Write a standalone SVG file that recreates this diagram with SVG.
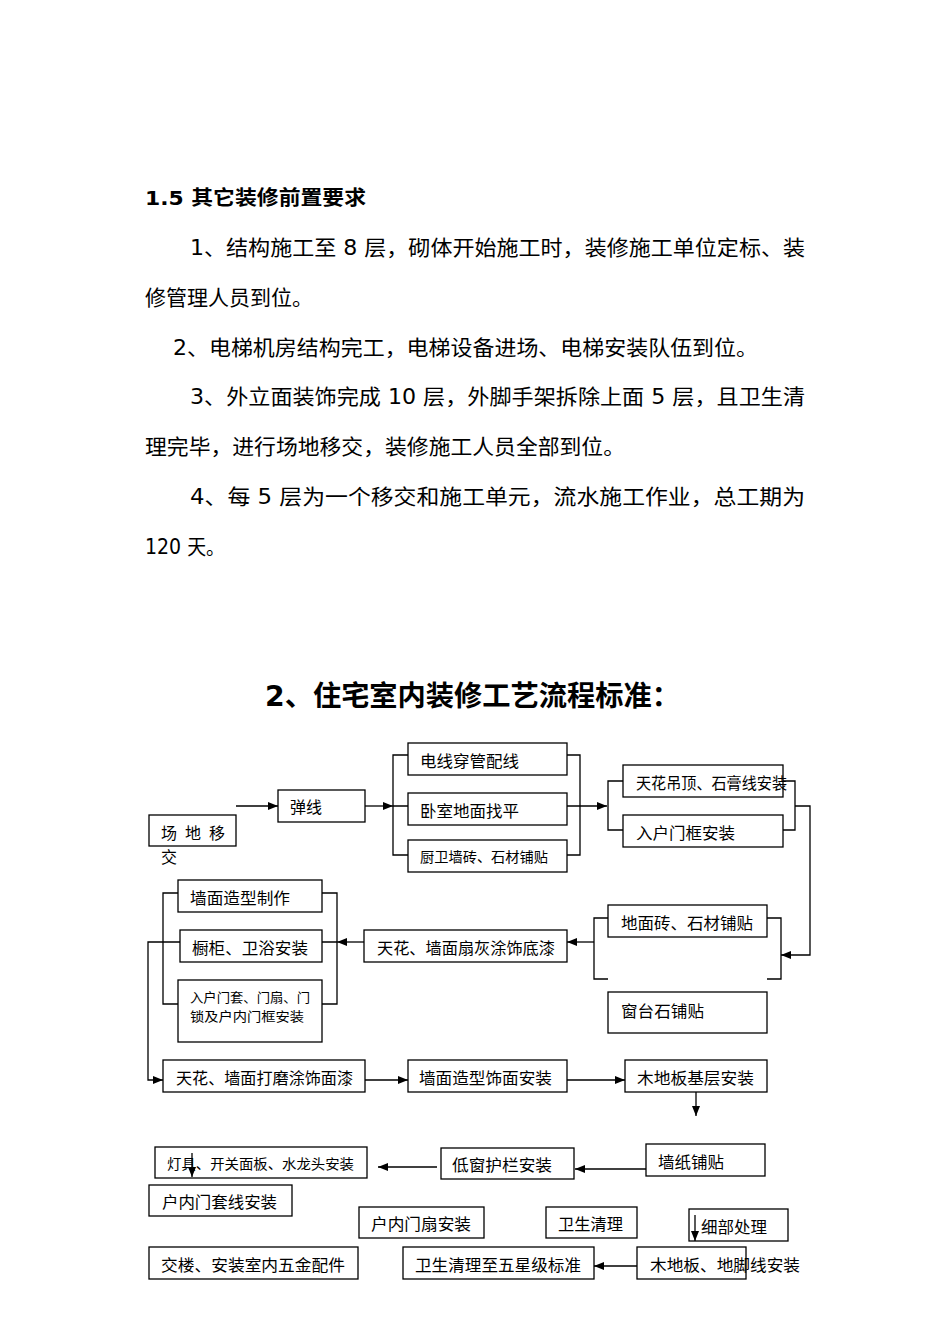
<svg xmlns="http://www.w3.org/2000/svg" width="950" height="1344" viewBox="0 0 950 1344">
<style>
.body{font-family:"DejaVu Sans","Noto Sans CJK SC",sans-serif;font-size:21px;fill:#000;dominant-baseline:central}
.bold{font-family:"DejaVu Sans","Noto Sans CJK SC",sans-serif;font-weight:bold;fill:#000;dominant-baseline:central}
.box{fill:#fff;stroke:#000;stroke-width:1.3}
.lbl{font-family:"Noto Sans CJK SC","DejaVu Sans",sans-serif;font-size:16px;fill:#000;dominant-baseline:central}
.sm{font-size:14px}
.xs{font-size:13px}
.ln{fill:none;stroke:#000;stroke-width:1.3}
</style>
<defs>
<marker id="ah" markerUnits="userSpaceOnUse" markerWidth="10" markerHeight="8" refX="10" refY="4" orient="auto">
<path d="M0,0 L10,4 L0,8 z" fill="#000"/>
</marker>
</defs>
<rect width="950" height="1344" fill="#fff"/>

<g id="text-block">
<text class="bold" x="145" y="198" font-size="20" textLength="221" lengthAdjust="spacingAndGlyphs">1.5 其它装修前置要求</text>
<text class="body" x="190" y="248" textLength="615" lengthAdjust="spacingAndGlyphs">1、结构施工至 8 层，砌体开始施工时，装修施工单位定标、装</text>
<text class="body" x="145" y="298" textLength="168" lengthAdjust="spacingAndGlyphs">修管理人员到位。</text>
<text class="body" x="173" y="348" textLength="585" lengthAdjust="spacingAndGlyphs">2、电梯机房结构完工，电梯设备进场、电梯安装队伍到位。</text>
<text class="body" x="190" y="397" textLength="615" lengthAdjust="spacingAndGlyphs">3、外立面装饰完成 10 层，外脚手架拆除上面 5 层，且卫生清</text>
<text class="body" x="145" y="447" textLength="480" lengthAdjust="spacingAndGlyphs">理完毕，进行场地移交，装修施工人员全部到位。</text>
<text class="body" x="190" y="497" textLength="615" lengthAdjust="spacingAndGlyphs">4、每 5 层为一个移交和施工单元，流水施工作业，总工期为</text>
<text class="body" x="145" y="547" textLength="80" lengthAdjust="spacingAndGlyphs">120 天。</text>
<text class="bold" x="265" y="696" font-size="28" textLength="415" lengthAdjust="spacingAndGlyphs">2、住宅室内装修工艺流程标准：</text>
</g>

<g id="connectors">
<path class="ln" d="M236,806 H278" marker-end="url(#ah)"/>
<path class="ln" d="M365,806 H393" marker-end="url(#ah)"/>
<path class="ln" d="M408,755 H393 V855 H408 M393,806 H408"/>
<path class="ln" d="M567,755 H580 V855 H567"/>
<path class="ln" d="M567,806 H607" marker-end="url(#ah)"/>
<path class="ln" d="M623,781 H608 V830 H623"/>
<path class="ln" d="M783,781 H795 V830 H783"/>
<path class="ln" d="M795,806 H810 V955 H781" marker-end="url(#ah)"/>
<path class="ln" d="M608,918 H594 V979 H608"/>
<path class="ln" d="M767,918 H781 V979 H767"/>
<path class="ln" d="M594,942 H567" marker-end="url(#ah)"/>
<path class="ln" d="M364,942 H337" marker-end="url(#ah)"/>
<path class="ln" d="M322,893 H337 V1004 H322 M322,942 H337"/>
<path class="ln" d="M178,893 H163 V1004 H178"/>
<path class="ln" d="M180,942 H148 V1080 H163" marker-end="url(#ah)"/>
<path class="ln" d="M365,1080 H408" marker-end="url(#ah)"/>
<path class="ln" d="M567,1080 H625" marker-end="url(#ah)"/>
<path class="ln" d="M696,1092 V1116" marker-end="url(#ah)"/>
<path class="ln" d="M646,1169 H575" marker-end="url(#ah)"/>
<path class="ln" d="M437,1167 H378" marker-end="url(#ah)"/>
<path class="ln" d="M637,1266 H594" marker-end="url(#ah)"/>
</g>

<g id="n-changdi"><rect class="box" x="149" y="815" width="87" height="31"/><text class="lbl" x="161" y="832" textLength="64" lengthAdjust="spacing">场 地 移</text><text class="lbl" x="161" y="856">交</text></g>
<g id="n-tanxian"><rect class="box" x="278" y="790" width="87" height="32"/><text class="lbl" x="290" y="806">弹线</text></g>
<g id="n-dianxian"><rect class="box" x="408" y="743" width="159" height="32"/><text class="lbl" x="420" y="760" textLength="99" lengthAdjust="spacingAndGlyphs">电线穿管配线</text></g>
<g id="n-woshi"><rect class="box" x="408" y="793" width="159" height="32"/><text class="lbl" x="420" y="810" textLength="99" lengthAdjust="spacingAndGlyphs">卧室地面找平</text></g>
<g id="n-chuwei"><rect class="box" x="408" y="840" width="159" height="32"/><text class="lbl sm" x="420" y="856" textLength="128" lengthAdjust="spacingAndGlyphs">厨卫墙砖、石材铺贴</text></g>
<g id="n-tianhua"><rect class="box" x="623" y="765" width="160" height="32"/><text class="lbl" x="636" y="782" textLength="151" lengthAdjust="spacingAndGlyphs">天花吊顶、石膏线安装</text></g>
<g id="n-ruhu"><rect class="box" x="623" y="815" width="160" height="32"/><text class="lbl" x="636" y="832" textLength="99" lengthAdjust="spacingAndGlyphs">入户门框安装</text></g>
<g id="n-dimian"><rect class="box" x="608" y="905" width="159" height="32"/><text class="lbl" x="621" y="922" textLength="132" lengthAdjust="spacingAndGlyphs">地面砖、石材铺贴</text></g>
<g id="n-chuangtai"><rect class="box" x="608" y="992" width="159" height="41"/><text class="lbl" x="621" y="1010" textLength="83" lengthAdjust="spacingAndGlyphs">窗台石铺贴</text></g>
<g id="n-shanhui"><rect class="box" x="364" y="930" width="203" height="32"/><text class="lbl" x="377" y="947" textLength="178" lengthAdjust="spacingAndGlyphs">天花、墙面扇灰涂饰底漆</text></g>
<g id="n-qiangmian"><rect class="box" x="178" y="880" width="144" height="32"/><text class="lbl" x="190" y="897" textLength="100" lengthAdjust="spacingAndGlyphs">墙面造型制作</text></g>
<g id="n-chugui"><rect class="box" x="180" y="930" width="142" height="32"/><text class="lbl" x="192" y="947" textLength="116" lengthAdjust="spacingAndGlyphs">橱柜、卫浴安装</text></g>
<g id="n-mentao"><rect class="box" x="178" y="980" width="144" height="62"/><text class="lbl xs" x="190" y="996" textLength="120" lengthAdjust="spacingAndGlyphs">入户门套、门扇、门</text><text class="lbl xs" x="190" y="1015" textLength="114" lengthAdjust="spacingAndGlyphs">锁及户内门框安装</text></g>
<g id="n-damo"><rect class="box" x="163" y="1060" width="202" height="32"/><text class="lbl" x="176" y="1077" textLength="177" lengthAdjust="spacingAndGlyphs">天花、墙面打磨涂饰面漆</text></g>
<g id="n-zaoxing"><rect class="box" x="408" y="1060" width="159" height="32"/><text class="lbl" x="419" y="1077" textLength="133" lengthAdjust="spacingAndGlyphs">墙面造型饰面安装</text></g>
<g id="n-mudiban"><rect class="box" x="625" y="1060" width="142" height="32"/><text class="lbl" x="637" y="1077" textLength="117" lengthAdjust="spacingAndGlyphs">木地板基层安装</text></g>
<g id="n-qiangzhi"><rect class="box" x="646" y="1144" width="119" height="32"/><text class="lbl" x="658" y="1161" textLength="66" lengthAdjust="spacingAndGlyphs">墙纸铺贴</text></g>
<g id="n-huqiang"><rect class="box" x="441" y="1148" width="133" height="31"/><text class="lbl" x="452" y="1164" textLength="100" lengthAdjust="spacingAndGlyphs">低窗护栏安装</text></g>
<g id="n-dengju"><rect class="box" x="155" y="1147" width="212" height="31"/><text class="lbl sm" x="167" y="1163" textLength="187" lengthAdjust="spacingAndGlyphs">灯具、开关面板、水龙头安装</text><path class="ln" d="M192,1153 V1177" marker-end="url(#ah)"/></g>
<g id="n-taoxian"><rect class="box" x="149" y="1185" width="143" height="31"/><text class="lbl" x="162" y="1201" textLength="115" lengthAdjust="spacingAndGlyphs">户内门套线安装</text></g>
<g id="n-menshan"><rect class="box" x="359" y="1207" width="125" height="31"/><text class="lbl" x="371" y="1223" textLength="100" lengthAdjust="spacingAndGlyphs">户内门扇安装</text></g>
<g id="n-weisheng"><rect class="box" x="546" y="1207" width="91" height="31"/><text class="lbl" x="558" y="1223" textLength="65" lengthAdjust="spacingAndGlyphs">卫生清理</text></g>
<g id="n-xibu"><rect class="box" x="689" y="1209" width="99" height="32"/><text class="lbl" x="701" y="1226" textLength="66" lengthAdjust="spacingAndGlyphs">细部处理</text><path class="ln" d="M695,1215 V1241" marker-end="url(#ah)"/></g>
<g id="n-jiaolou"><rect class="box" x="149" y="1247" width="209" height="32"/><text class="lbl" x="161" y="1264" textLength="184" lengthAdjust="spacingAndGlyphs">交楼、安装室内五金配件</text></g>
<g id="n-wuxing"><rect class="box" x="403" y="1247" width="191" height="32"/><text class="lbl" x="415" y="1264" textLength="166" lengthAdjust="spacingAndGlyphs">卫生清理至五星级标准</text></g>
<g id="n-jiaoxian"><rect class="box" x="637" y="1247" width="109" height="32"/><text class="lbl" x="650" y="1264" textLength="150" lengthAdjust="spacingAndGlyphs">木地板、地脚线安装</text></g>
</svg>
